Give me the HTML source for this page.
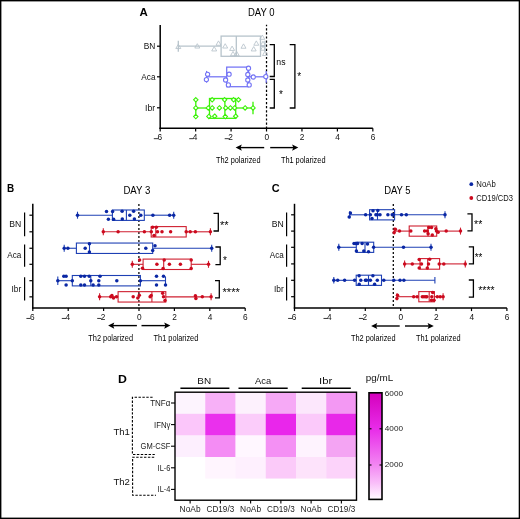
<!DOCTYPE html>
<html><head><meta charset="utf-8"><style>
html,body{margin:0;padding:0;background:#fff;}
body{width:520px;height:519px;overflow:hidden;position:relative;}
svg{position:absolute;left:0;top:0;will-change:transform;}
text{font-family:"Liberation Sans", sans-serif;}
</style></head><body>
<svg width="520" height="519" viewBox="0 0 520 519" font-family="'Liberation Sans', sans-serif">
<rect x="0" y="0" width="520" height="519" fill="#fff"/>
<line x1="266.52" y1="24.8" x2="266.52" y2="128.2" stroke="#000" stroke-width="1.25" stroke-dasharray="2.2 1.9" stroke-dashoffset="0.7"/>
<line x1="178.3" y1="46.2" x2="221.1" y2="46.2" stroke="#b7c3cb" stroke-width="1.3"/>
<line x1="260.5" y1="46.2" x2="265" y2="46.2" stroke="#b7c3cb" stroke-width="1.3"/>
<line x1="178.3" y1="40.7" x2="178.3" y2="51.7" stroke="#b7c3cb" stroke-width="1.3"/>
<line x1="265" y1="40.7" x2="265" y2="51.7" stroke="#b7c3cb" stroke-width="1.3"/>
<rect x="221.1" y="36.1" width="39.4" height="20.2" fill="none" stroke="#b7c3cb" stroke-width="1.3"/>
<line x1="236.3" y1="36.1" x2="236.3" y2="56.3" stroke="#b7c3cb" stroke-width="1.3"/>
<path d="M178.3 44.19 L175.8 48.54 L180.8 48.54 Z" fill="none" stroke="#b7c3cb" stroke-width="0.85"/>
<path d="M197.3 43.69 L194.8 48.04 L199.8 48.04 Z" fill="none" stroke="#b7c3cb" stroke-width="0.85"/>
<path d="M214.2 46.59 L211.7 50.94 L216.7 50.94 Z" fill="none" stroke="#b7c3cb" stroke-width="0.85"/>
<path d="M218.5 40.89 L216 45.24 L221 45.24 Z" fill="none" stroke="#b7c3cb" stroke-width="0.85"/>
<path d="M225.2 43.69 L222.7 48.04 L227.7 48.04 Z" fill="none" stroke="#b7c3cb" stroke-width="0.85"/>
<path d="M232.1 46.09 L229.6 50.44 L234.6 50.44 Z" fill="none" stroke="#b7c3cb" stroke-width="0.85"/>
<path d="M233 51.39 L230.5 55.74 L235.5 55.74 Z" fill="none" stroke="#b7c3cb" stroke-width="0.85"/>
<path d="M236.7 51.39 L234.2 55.74 L239.2 55.74 Z" fill="none" stroke="#b7c3cb" stroke-width="0.85"/>
<path d="M243.5 43.89 L241 48.24 L246 48.24 Z" fill="none" stroke="#b7c3cb" stroke-width="0.85"/>
<path d="M253.7 46.59 L251.2 50.94 L256.2 50.94 Z" fill="none" stroke="#b7c3cb" stroke-width="0.85"/>
<path d="M256.3 40.89 L253.8 45.24 L258.8 45.24 Z" fill="none" stroke="#b7c3cb" stroke-width="0.85"/>
<path d="M262.3 34.99 L259.8 39.34 L264.8 39.34 Z" fill="none" stroke="#b7c3cb" stroke-width="0.85"/>
<path d="M263 41.19 L260.5 45.54 L265.5 45.54 Z" fill="none" stroke="#b7c3cb" stroke-width="0.85"/>
<path d="M263 45.89 L260.5 50.24 L265.5 50.24 Z" fill="none" stroke="#b7c3cb" stroke-width="0.85"/>
<path d="M265 51.19 L262.5 55.54 L267.5 55.54 Z" fill="none" stroke="#b7c3cb" stroke-width="0.85"/>
<line x1="206.6" y1="76.8" x2="226.7" y2="76.8" stroke="#7373f5" stroke-width="1.25"/>
<line x1="248.6" y1="76.8" x2="266.2" y2="76.8" stroke="#7373f5" stroke-width="1.25"/>
<line x1="206.6" y1="70.9" x2="206.6" y2="82.7" stroke="#7373f5" stroke-width="1.25"/>
<line x1="266.2" y1="70.9" x2="266.2" y2="82.7" stroke="#7373f5" stroke-width="1.25"/>
<rect x="226.7" y="67.1" width="21.9" height="19.6" fill="none" stroke="#7373f5" stroke-width="1.25"/>
<line x1="248" y1="67.1" x2="248" y2="86.7" stroke="#7373f5" stroke-width="1.25"/>
<circle cx="207.6" cy="74.3" r="2.1" fill="#fff" stroke="#7373f5" stroke-width="1.1"/>
<circle cx="206.4" cy="79.6" r="2.1" fill="#fff" stroke="#7373f5" stroke-width="1.1"/>
<circle cx="229.1" cy="74.2" r="2.1" fill="#fff" stroke="#7373f5" stroke-width="1.1"/>
<circle cx="225.6" cy="80" r="2.1" fill="#fff" stroke="#7373f5" stroke-width="1.1"/>
<circle cx="228.4" cy="84.9" r="2.1" fill="#fff" stroke="#7373f5" stroke-width="1.1"/>
<circle cx="248.5" cy="68.2" r="2.1" fill="#fff" stroke="#7373f5" stroke-width="1.1"/>
<circle cx="247.8" cy="74.5" r="2.1" fill="#fff" stroke="#7373f5" stroke-width="1.1"/>
<circle cx="247.8" cy="80" r="2.1" fill="#fff" stroke="#7373f5" stroke-width="1.1"/>
<circle cx="249.2" cy="84.9" r="2.1" fill="#fff" stroke="#7373f5" stroke-width="1.1"/>
<circle cx="253.3" cy="77" r="2.1" fill="#fff" stroke="#7373f5" stroke-width="1.1"/>
<circle cx="265.8" cy="76.6" r="2.1" fill="#fff" stroke="#7373f5" stroke-width="1.1"/>
<line x1="195.8" y1="108" x2="209.5" y2="108" stroke="#3af206" stroke-width="1.3"/>
<line x1="235.7" y1="108" x2="253" y2="108" stroke="#3af206" stroke-width="1.3"/>
<line x1="195.8" y1="101.7" x2="195.8" y2="114.3" stroke="#3af206" stroke-width="1.3"/>
<line x1="253" y1="101.7" x2="253" y2="114.3" stroke="#3af206" stroke-width="1.3"/>
<rect x="209.5" y="98.5" width="26.2" height="19.8" fill="none" stroke="#3af206" stroke-width="1.3"/>
<line x1="224.9" y1="98.5" x2="224.9" y2="118.3" stroke="#3af206" stroke-width="1.3"/>
<path d="M195.8 97.6 L198 99.8 L195.8 102 L193.6 99.8 Z" fill="#fff" stroke="#3af206" stroke-width="1.1"/>
<path d="M195.8 105.7 L198 107.9 L195.8 110.1 L193.6 107.9 Z" fill="#fff" stroke="#3af206" stroke-width="1.1"/>
<path d="M195.8 114.4 L198 116.6 L195.8 118.8 L193.6 116.6 Z" fill="#fff" stroke="#3af206" stroke-width="1.1"/>
<path d="M208.3 105.7 L210.5 107.9 L208.3 110.1 L206.1 107.9 Z" fill="#fff" stroke="#3af206" stroke-width="1.1"/>
<path d="M212.2 97.6 L214.4 99.8 L212.2 102 L210 99.8 Z" fill="#fff" stroke="#3af206" stroke-width="1.1"/>
<path d="M212.2 105.7 L214.4 107.9 L212.2 110.1 L210 107.9 Z" fill="#fff" stroke="#3af206" stroke-width="1.1"/>
<path d="M208.9 114.2 L211.1 116.4 L208.9 118.6 L206.7 116.4 Z" fill="#fff" stroke="#3af206" stroke-width="1.1"/>
<path d="M214.7 114 L216.9 116.2 L214.7 118.4 L212.5 116.2 Z" fill="#fff" stroke="#3af206" stroke-width="1.1"/>
<path d="M219.4 105.7 L221.6 107.9 L219.4 110.1 L217.2 107.9 Z" fill="#fff" stroke="#3af206" stroke-width="1.1"/>
<path d="M224.6 97.6 L226.8 99.8 L224.6 102 L222.4 99.8 Z" fill="#fff" stroke="#3af206" stroke-width="1.1"/>
<path d="M225.7 105.7 L227.9 107.9 L225.7 110.1 L223.5 107.9 Z" fill="#fff" stroke="#3af206" stroke-width="1.1"/>
<path d="M225.3 114.4 L227.5 116.6 L225.3 118.8 L223.1 116.6 Z" fill="#fff" stroke="#3af206" stroke-width="1.1"/>
<path d="M230.4 105.7 L232.6 107.9 L230.4 110.1 L228.2 107.9 Z" fill="#fff" stroke="#3af206" stroke-width="1.1"/>
<path d="M233.6 97.6 L235.8 99.8 L233.6 102 L231.4 99.8 Z" fill="#fff" stroke="#3af206" stroke-width="1.1"/>
<path d="M234.6 105.7 L236.8 107.9 L234.6 110.1 L232.4 107.9 Z" fill="#fff" stroke="#3af206" stroke-width="1.1"/>
<path d="M235.7 114 L237.9 116.2 L235.7 118.4 L233.5 116.2 Z" fill="#fff" stroke="#3af206" stroke-width="1.1"/>
<path d="M238.5 97.6 L240.7 99.8 L238.5 102 L236.3 99.8 Z" fill="#fff" stroke="#3af206" stroke-width="1.1"/>
<path d="M245.1 105.7 L247.3 107.9 L245.1 110.1 L242.9 107.9 Z" fill="#fff" stroke="#3af206" stroke-width="1.1"/>
<path d="M253 105.7 L255.2 107.9 L253 110.1 L250.8 107.9 Z" fill="#fff" stroke="#3af206" stroke-width="1.1"/>
<line x1="160.2" y1="25" x2="160.2" y2="128.9" stroke="#000" stroke-width="1.5"/>
<line x1="159.5" y1="128.2" x2="372.84" y2="128.2" stroke="#000" stroke-width="1.5"/>
<line x1="160.2" y1="128.2" x2="160.2" y2="131.5" stroke="#000" stroke-width="1.2"/>
<rect x="153.8" y="138.25" width="4.2" height="0.9" fill="#222" stroke="none" stroke-width="1"/>
<text x="159.7" y="140.2" font-size="8.3" text-anchor="middle" font-weight="normal" fill="#111">6</text>
<line x1="195.64" y1="128.2" x2="195.64" y2="131.5" stroke="#000" stroke-width="1.2"/>
<rect x="189.24" y="138.25" width="4.2" height="0.9" fill="#222" stroke="none" stroke-width="1"/>
<text x="195.14" y="140.2" font-size="8.3" text-anchor="middle" font-weight="normal" fill="#111">4</text>
<line x1="231.08" y1="128.2" x2="231.08" y2="131.5" stroke="#000" stroke-width="1.2"/>
<rect x="224.68" y="138.25" width="4.2" height="0.9" fill="#222" stroke="none" stroke-width="1"/>
<text x="230.58" y="140.2" font-size="8.3" text-anchor="middle" font-weight="normal" fill="#111">2</text>
<line x1="266.52" y1="128.2" x2="266.52" y2="131.5" stroke="#000" stroke-width="1.2"/>
<text x="266.72" y="140.2" font-size="8.3" text-anchor="middle" font-weight="normal" fill="#111">0</text>
<line x1="301.96" y1="128.2" x2="301.96" y2="131.5" stroke="#000" stroke-width="1.2"/>
<text x="302.16" y="140.2" font-size="8.3" text-anchor="middle" font-weight="normal" fill="#111">2</text>
<line x1="337.4" y1="128.2" x2="337.4" y2="131.5" stroke="#000" stroke-width="1.2"/>
<text x="337.6" y="140.2" font-size="8.3" text-anchor="middle" font-weight="normal" fill="#111">4</text>
<line x1="372.84" y1="128.2" x2="372.84" y2="131.5" stroke="#000" stroke-width="1.2"/>
<text x="373.04" y="140.2" font-size="8.3" text-anchor="middle" font-weight="normal" fill="#111">6</text>
<line x1="157" y1="46.2" x2="160.2" y2="46.2" stroke="#000" stroke-width="1.2"/>
<text x="155.3" y="49" font-size="8.8" text-anchor="end" font-weight="normal" fill="#111" textLength="11.6" lengthAdjust="spacingAndGlyphs">BN</text>
<line x1="157" y1="76.8" x2="160.2" y2="76.8" stroke="#000" stroke-width="1.2"/>
<text x="155.5" y="79.6" font-size="8.8" text-anchor="end" font-weight="normal" fill="#111" textLength="14.2" lengthAdjust="spacingAndGlyphs">Aca</text>
<line x1="157" y1="107.8" x2="160.2" y2="107.8" stroke="#000" stroke-width="1.2"/>
<text x="155.3" y="110.6" font-size="8.8" text-anchor="end" font-weight="normal" fill="#111" textLength="10.2" lengthAdjust="spacingAndGlyphs">Ibr</text>
<text x="248" y="16" font-size="10" text-anchor="start" font-weight="normal" fill="#000" textLength="26.6" lengthAdjust="spacingAndGlyphs">DAY 0</text>
<text x="139.5" y="16.4" font-size="10.8" text-anchor="start" font-weight="bold" fill="#000" textLength="8.3" lengthAdjust="spacingAndGlyphs">A</text>
<path d="M269.7 44.7 H274.3 V76.5 H269.7" fill="none" stroke="#000" stroke-width="1.3"/>
<text x="276.3" y="64.5" font-size="8.6" text-anchor="start" font-weight="normal" fill="#000" textLength="9.2" lengthAdjust="spacingAndGlyphs">ns</text>
<path d="M269.7 79.4 H274.3 V108 H269.7" fill="none" stroke="#000" stroke-width="1.3"/>
<text x="279" y="97.6" font-size="10" text-anchor="start" font-weight="normal" fill="#000">*</text>
<path d="M289.7 44.7 H294.9 V108 H289.7" fill="none" stroke="#000" stroke-width="1.3"/>
<text x="297.2" y="79.5" font-size="10" text-anchor="start" font-weight="normal" fill="#000">*</text>
<line x1="239.6" y1="147.6" x2="264.2" y2="147.6" stroke="#000" stroke-width="1.4"/>
<path d="M235.6 147.6 L241.8 144.5 L240.6 147.6 L241.8 150.7 Z" fill="#000" stroke="none" stroke-width="1"/>
<line x1="270.2" y1="147.6" x2="294.3" y2="147.6" stroke="#000" stroke-width="1.4"/>
<path d="M298.3 147.6 L292.1 144.5 L293.3 147.6 L292.1 150.7 Z" fill="#000" stroke="none" stroke-width="1"/>
<text x="216" y="163.1" font-size="9.5" text-anchor="start" font-weight="normal" fill="#000" textLength="44.5" lengthAdjust="spacingAndGlyphs">Th2 polarized</text>
<text x="280.9" y="163.1" font-size="9.5" text-anchor="start" font-weight="normal" fill="#000" textLength="44.6" lengthAdjust="spacingAndGlyphs">Th1 polarized</text>
<line x1="138.9" y1="203.9" x2="138.9" y2="307.9" stroke="#000" stroke-width="1.25" stroke-dasharray="2.0 2.0"/>
<line x1="77.5" y1="215.2" x2="112.4" y2="215.2" stroke="#1e40b4" stroke-width="1.1"/>
<line x1="144.3" y1="215.2" x2="173.7" y2="215.2" stroke="#1e40b4" stroke-width="1.1"/>
<line x1="77.5" y1="211.7" x2="77.5" y2="218.7" stroke="#1e40b4" stroke-width="1.1"/>
<line x1="173.7" y1="211.7" x2="173.7" y2="218.7" stroke="#1e40b4" stroke-width="1.1"/>
<rect x="112.4" y="210" width="31.9" height="10.4" fill="none" stroke="#1e40b4" stroke-width="1.1"/>
<line x1="126.4" y1="210" x2="126.4" y2="220.4" stroke="#1e40b4" stroke-width="1.1"/>
<circle cx="77.5" cy="215.2" r="1.75" fill="#0a27a4" stroke="none" stroke-width="1"/>
<circle cx="106.5" cy="211.5" r="1.75" fill="#0a27a4" stroke="none" stroke-width="1"/>
<circle cx="108.4" cy="219.2" r="1.75" fill="#0a27a4" stroke="none" stroke-width="1"/>
<circle cx="112.6" cy="211.5" r="1.75" fill="#0a27a4" stroke="none" stroke-width="1"/>
<circle cx="113.6" cy="219.2" r="1.75" fill="#0a27a4" stroke="none" stroke-width="1"/>
<circle cx="122.1" cy="211.3" r="1.75" fill="#0a27a4" stroke="none" stroke-width="1"/>
<circle cx="122.3" cy="219.1" r="1.75" fill="#0a27a4" stroke="none" stroke-width="1"/>
<circle cx="129.8" cy="215.2" r="1.75" fill="#0a27a4" stroke="none" stroke-width="1"/>
<circle cx="133.6" cy="211.3" r="1.75" fill="#0a27a4" stroke="none" stroke-width="1"/>
<circle cx="134.4" cy="219.1" r="1.75" fill="#0a27a4" stroke="none" stroke-width="1"/>
<circle cx="140.8" cy="215.2" r="1.75" fill="#0a27a4" stroke="none" stroke-width="1"/>
<circle cx="152.9" cy="215.2" r="1.75" fill="#0a27a4" stroke="none" stroke-width="1"/>
<circle cx="169.6" cy="215.2" r="1.75" fill="#0a27a4" stroke="none" stroke-width="1"/>
<circle cx="173.7" cy="215.2" r="1.75" fill="#0a27a4" stroke="none" stroke-width="1"/>
<line x1="103.3" y1="231.8" x2="151.2" y2="231.8" stroke="#cf1f30" stroke-width="1.1"/>
<line x1="186.2" y1="231.8" x2="210.4" y2="231.8" stroke="#cf1f30" stroke-width="1.1"/>
<line x1="103.3" y1="228.3" x2="103.3" y2="235.3" stroke="#cf1f30" stroke-width="1.1"/>
<line x1="210.4" y1="228.3" x2="210.4" y2="235.3" stroke="#cf1f30" stroke-width="1.1"/>
<rect x="151.2" y="226.6" width="35" height="10.4" fill="none" stroke="#cf1f30" stroke-width="1.1"/>
<line x1="155.8" y1="226.6" x2="155.8" y2="237" stroke="#cf1f30" stroke-width="1.1"/>
<circle cx="103.3" cy="231.8" r="1.75" fill="#cc0a1e" stroke="none" stroke-width="1"/>
<circle cx="118.1" cy="231.8" r="1.75" fill="#cc0a1e" stroke="none" stroke-width="1"/>
<circle cx="144.4" cy="231.8" r="1.75" fill="#cc0a1e" stroke="none" stroke-width="1"/>
<circle cx="151.3" cy="231.8" r="1.75" fill="#cc0a1e" stroke="none" stroke-width="1"/>
<circle cx="152.6" cy="227.2" r="1.75" fill="#cc0a1e" stroke="none" stroke-width="1"/>
<circle cx="156.3" cy="227.2" r="1.75" fill="#cc0a1e" stroke="none" stroke-width="1"/>
<circle cx="154" cy="235.6" r="1.75" fill="#cc0a1e" stroke="none" stroke-width="1"/>
<circle cx="157.5" cy="231.8" r="1.75" fill="#cc0a1e" stroke="none" stroke-width="1"/>
<circle cx="162" cy="231.8" r="1.75" fill="#cc0a1e" stroke="none" stroke-width="1"/>
<circle cx="170.6" cy="231.8" r="1.75" fill="#cc0a1e" stroke="none" stroke-width="1"/>
<circle cx="186.2" cy="231.8" r="1.75" fill="#cc0a1e" stroke="none" stroke-width="1"/>
<circle cx="190.2" cy="231.8" r="1.75" fill="#cc0a1e" stroke="none" stroke-width="1"/>
<circle cx="195.4" cy="231.8" r="1.75" fill="#cc0a1e" stroke="none" stroke-width="1"/>
<circle cx="210.4" cy="231.8" r="1.75" fill="#cc0a1e" stroke="none" stroke-width="1"/>
<line x1="64.2" y1="248.25" x2="76.4" y2="248.25" stroke="#1e40b4" stroke-width="1.1"/>
<line x1="152.7" y1="248.25" x2="211.7" y2="248.25" stroke="#1e40b4" stroke-width="1.1"/>
<line x1="64.2" y1="244.75" x2="64.2" y2="251.75" stroke="#1e40b4" stroke-width="1.1"/>
<line x1="211.7" y1="244.75" x2="211.7" y2="251.75" stroke="#1e40b4" stroke-width="1.1"/>
<rect x="76.4" y="243.05" width="76.3" height="10.4" fill="none" stroke="#1e40b4" stroke-width="1.1"/>
<line x1="89.5" y1="243.05" x2="89.5" y2="253.45" stroke="#1e40b4" stroke-width="1.1"/>
<circle cx="64.2" cy="248.25" r="1.75" fill="#0a27a4" stroke="none" stroke-width="1"/>
<circle cx="67.9" cy="248.25" r="1.75" fill="#0a27a4" stroke="none" stroke-width="1"/>
<circle cx="85.2" cy="248.25" r="1.75" fill="#0a27a4" stroke="none" stroke-width="1"/>
<circle cx="89.4" cy="243.8" r="1.75" fill="#0a27a4" stroke="none" stroke-width="1"/>
<circle cx="89.4" cy="252.1" r="1.75" fill="#0a27a4" stroke="none" stroke-width="1"/>
<circle cx="145.8" cy="248.25" r="1.75" fill="#0a27a4" stroke="none" stroke-width="1"/>
<circle cx="152.7" cy="250.4" r="1.75" fill="#0a27a4" stroke="none" stroke-width="1"/>
<circle cx="155" cy="245.8" r="1.75" fill="#0a27a4" stroke="none" stroke-width="1"/>
<circle cx="211.7" cy="248.25" r="1.75" fill="#0a27a4" stroke="none" stroke-width="1"/>
<line x1="132.3" y1="264.3" x2="143.1" y2="264.3" stroke="#cf1f30" stroke-width="1.1"/>
<line x1="191.2" y1="264.3" x2="208.5" y2="264.3" stroke="#cf1f30" stroke-width="1.1"/>
<line x1="132.3" y1="260.8" x2="132.3" y2="267.8" stroke="#cf1f30" stroke-width="1.1"/>
<line x1="208.5" y1="260.8" x2="208.5" y2="267.8" stroke="#cf1f30" stroke-width="1.1"/>
<rect x="143.1" y="259.1" width="48.1" height="10.4" fill="none" stroke="#cf1f30" stroke-width="1.1"/>
<line x1="163.7" y1="259.1" x2="163.7" y2="269.5" stroke="#cf1f30" stroke-width="1.1"/>
<circle cx="132.3" cy="264.3" r="1.75" fill="#cc0a1e" stroke="none" stroke-width="1"/>
<circle cx="139.6" cy="260.1" r="1.75" fill="#cc0a1e" stroke="none" stroke-width="1"/>
<circle cx="142.5" cy="268.2" r="1.75" fill="#cc0a1e" stroke="none" stroke-width="1"/>
<circle cx="156.9" cy="264.3" r="1.75" fill="#cc0a1e" stroke="none" stroke-width="1"/>
<circle cx="164.2" cy="260.1" r="1.75" fill="#cc0a1e" stroke="none" stroke-width="1"/>
<circle cx="163.1" cy="268.4" r="1.75" fill="#cc0a1e" stroke="none" stroke-width="1"/>
<circle cx="169.4" cy="264.3" r="1.75" fill="#cc0a1e" stroke="none" stroke-width="1"/>
<circle cx="180.4" cy="264.3" r="1.75" fill="#cc0a1e" stroke="none" stroke-width="1"/>
<circle cx="191.2" cy="260.1" r="1.75" fill="#cc0a1e" stroke="none" stroke-width="1"/>
<circle cx="191.2" cy="268.4" r="1.75" fill="#cc0a1e" stroke="none" stroke-width="1"/>
<circle cx="208.5" cy="264.3" r="1.75" fill="#cc0a1e" stroke="none" stroke-width="1"/>
<line x1="57.8" y1="280.7" x2="72.3" y2="280.7" stroke="#1e40b4" stroke-width="1.1"/>
<line x1="140.4" y1="280.7" x2="165.5" y2="280.7" stroke="#1e40b4" stroke-width="1.1"/>
<line x1="57.8" y1="276.5" x2="57.8" y2="284.9" stroke="#1e40b4" stroke-width="1.1"/>
<line x1="165.5" y1="276.5" x2="165.5" y2="284.9" stroke="#1e40b4" stroke-width="1.1"/>
<rect x="72.3" y="275.5" width="68.1" height="10.4" fill="none" stroke="#1e40b4" stroke-width="1.1"/>
<line x1="90.8" y1="275.5" x2="90.8" y2="285.9" stroke="#1e40b4" stroke-width="1.1"/>
<circle cx="57.8" cy="280.7" r="1.75" fill="#0a27a4" stroke="none" stroke-width="1"/>
<circle cx="63.8" cy="276.3" r="1.75" fill="#0a27a4" stroke="none" stroke-width="1"/>
<circle cx="66.1" cy="276.3" r="1.75" fill="#0a27a4" stroke="none" stroke-width="1"/>
<circle cx="66.1" cy="284.9" r="1.75" fill="#0a27a4" stroke="none" stroke-width="1"/>
<circle cx="72.3" cy="280.7" r="1.75" fill="#0a27a4" stroke="none" stroke-width="1"/>
<circle cx="80.8" cy="276.3" r="1.75" fill="#0a27a4" stroke="none" stroke-width="1"/>
<circle cx="84.5" cy="276.3" r="1.75" fill="#0a27a4" stroke="none" stroke-width="1"/>
<circle cx="89.2" cy="276.3" r="1.75" fill="#0a27a4" stroke="none" stroke-width="1"/>
<circle cx="80.8" cy="284.9" r="1.75" fill="#0a27a4" stroke="none" stroke-width="1"/>
<circle cx="84.5" cy="284.9" r="1.75" fill="#0a27a4" stroke="none" stroke-width="1"/>
<circle cx="90.8" cy="280.7" r="1.75" fill="#0a27a4" stroke="none" stroke-width="1"/>
<circle cx="93.1" cy="284.9" r="1.75" fill="#0a27a4" stroke="none" stroke-width="1"/>
<circle cx="98.8" cy="280.7" r="1.75" fill="#0a27a4" stroke="none" stroke-width="1"/>
<circle cx="100" cy="276.3" r="1.75" fill="#0a27a4" stroke="none" stroke-width="1"/>
<circle cx="98.8" cy="284.9" r="1.75" fill="#0a27a4" stroke="none" stroke-width="1"/>
<circle cx="116.8" cy="280.7" r="1.75" fill="#0a27a4" stroke="none" stroke-width="1"/>
<circle cx="140.4" cy="280.7" r="1.75" fill="#0a27a4" stroke="none" stroke-width="1"/>
<circle cx="156.5" cy="276.3" r="1.75" fill="#0a27a4" stroke="none" stroke-width="1"/>
<circle cx="163.5" cy="276.3" r="1.75" fill="#0a27a4" stroke="none" stroke-width="1"/>
<circle cx="156.5" cy="284.9" r="1.75" fill="#0a27a4" stroke="none" stroke-width="1"/>
<circle cx="165.5" cy="284.9" r="1.75" fill="#0a27a4" stroke="none" stroke-width="1"/>
<line x1="99.6" y1="296.85" x2="118.1" y2="296.85" stroke="#cf1f30" stroke-width="1.1"/>
<line x1="165.8" y1="296.85" x2="211.1" y2="296.85" stroke="#cf1f30" stroke-width="1.1"/>
<line x1="99.6" y1="293.35" x2="99.6" y2="300.35" stroke="#cf1f30" stroke-width="1.1"/>
<line x1="211.1" y1="293.35" x2="211.1" y2="300.35" stroke="#cf1f30" stroke-width="1.1"/>
<rect x="118.1" y="291.65" width="47.7" height="10.4" fill="none" stroke="#cf1f30" stroke-width="1.1"/>
<line x1="151.9" y1="291.65" x2="151.9" y2="302.05" stroke="#cf1f30" stroke-width="1.1"/>
<circle cx="99.6" cy="296.85" r="1.75" fill="#cc0a1e" stroke="none" stroke-width="1"/>
<circle cx="110.7" cy="296.85" r="1.75" fill="#cc0a1e" stroke="none" stroke-width="1"/>
<circle cx="111.9" cy="295.5" r="1.75" fill="#cc0a1e" stroke="none" stroke-width="1"/>
<circle cx="113.5" cy="298" r="1.75" fill="#cc0a1e" stroke="none" stroke-width="1"/>
<circle cx="116.5" cy="296.85" r="1.75" fill="#cc0a1e" stroke="none" stroke-width="1"/>
<circle cx="133.2" cy="296.85" r="1.75" fill="#cc0a1e" stroke="none" stroke-width="1"/>
<circle cx="137.8" cy="298" r="1.75" fill="#cc0a1e" stroke="none" stroke-width="1"/>
<circle cx="139.3" cy="295.2" r="1.75" fill="#cc0a1e" stroke="none" stroke-width="1"/>
<circle cx="150.1" cy="296.85" r="1.75" fill="#cc0a1e" stroke="none" stroke-width="1"/>
<circle cx="151.2" cy="295.5" r="1.75" fill="#cc0a1e" stroke="none" stroke-width="1"/>
<circle cx="162.7" cy="293.2" r="1.75" fill="#cc0a1e" stroke="none" stroke-width="1"/>
<circle cx="163.5" cy="296.85" r="1.75" fill="#cc0a1e" stroke="none" stroke-width="1"/>
<circle cx="165" cy="300.5" r="1.75" fill="#cc0a1e" stroke="none" stroke-width="1"/>
<circle cx="195.4" cy="295.8" r="1.75" fill="#cc0a1e" stroke="none" stroke-width="1"/>
<circle cx="195.9" cy="298.4" r="1.75" fill="#cc0a1e" stroke="none" stroke-width="1"/>
<circle cx="202.3" cy="296.85" r="1.75" fill="#cc0a1e" stroke="none" stroke-width="1"/>
<circle cx="211.1" cy="296.85" r="1.75" fill="#cc0a1e" stroke="none" stroke-width="1"/>
<line x1="32.8" y1="203.8" x2="32.8" y2="308.6" stroke="#000" stroke-width="1.5"/>
<line x1="32.1" y1="307.9" x2="245.2" y2="307.9" stroke="#000" stroke-width="1.5"/>
<line x1="32.8" y1="307.9" x2="32.8" y2="311.1" stroke="#000" stroke-width="1.2"/>
<rect x="26.4" y="317.95" width="4.2" height="0.9" fill="#222" stroke="none" stroke-width="1"/>
<text x="32.3" y="319.9" font-size="8.3" text-anchor="middle" font-weight="normal" fill="#111">6</text>
<line x1="68.2" y1="307.9" x2="68.2" y2="311.1" stroke="#000" stroke-width="1.2"/>
<rect x="61.8" y="317.95" width="4.2" height="0.9" fill="#222" stroke="none" stroke-width="1"/>
<text x="67.7" y="319.9" font-size="8.3" text-anchor="middle" font-weight="normal" fill="#111">4</text>
<line x1="103.6" y1="307.9" x2="103.6" y2="311.1" stroke="#000" stroke-width="1.2"/>
<rect x="97.2" y="317.95" width="4.2" height="0.9" fill="#222" stroke="none" stroke-width="1"/>
<text x="103.1" y="319.9" font-size="8.3" text-anchor="middle" font-weight="normal" fill="#111">2</text>
<line x1="139" y1="307.9" x2="139" y2="311.1" stroke="#000" stroke-width="1.2"/>
<text x="139.2" y="319.9" font-size="8.3" text-anchor="middle" font-weight="normal" fill="#111">0</text>
<line x1="174.4" y1="307.9" x2="174.4" y2="311.1" stroke="#000" stroke-width="1.2"/>
<text x="174.6" y="319.9" font-size="8.3" text-anchor="middle" font-weight="normal" fill="#111">2</text>
<line x1="209.8" y1="307.9" x2="209.8" y2="311.1" stroke="#000" stroke-width="1.2"/>
<text x="210" y="319.9" font-size="8.3" text-anchor="middle" font-weight="normal" fill="#111">4</text>
<line x1="245.2" y1="307.9" x2="245.2" y2="311.1" stroke="#000" stroke-width="1.2"/>
<text x="245.4" y="319.9" font-size="8.3" text-anchor="middle" font-weight="normal" fill="#111">6</text>
<line x1="29.4" y1="215.2" x2="32.8" y2="215.2" stroke="#000" stroke-width="1.2"/>
<line x1="29.4" y1="231.8" x2="32.8" y2="231.8" stroke="#000" stroke-width="1.2"/>
<line x1="29.4" y1="248.25" x2="32.8" y2="248.25" stroke="#000" stroke-width="1.2"/>
<line x1="29.4" y1="264.3" x2="32.8" y2="264.3" stroke="#000" stroke-width="1.2"/>
<line x1="29.4" y1="280.7" x2="32.8" y2="280.7" stroke="#000" stroke-width="1.2"/>
<line x1="29.4" y1="296.85" x2="32.8" y2="296.85" stroke="#000" stroke-width="1.2"/>
<line x1="24.6" y1="212.5" x2="24.6" y2="236.2" stroke="#000" stroke-width="1.2"/>
<text x="21.3" y="227.05" font-size="8.8" text-anchor="end" font-weight="normal" fill="#111" textLength="12" lengthAdjust="spacingAndGlyphs">BN</text>
<line x1="24.6" y1="244.6" x2="24.6" y2="266.8" stroke="#000" stroke-width="1.2"/>
<text x="21.3" y="258.4" font-size="8.8" text-anchor="end" font-weight="normal" fill="#111" textLength="14" lengthAdjust="spacingAndGlyphs">Aca</text>
<line x1="24.6" y1="277.2" x2="24.6" y2="300.4" stroke="#000" stroke-width="1.2"/>
<text x="21.3" y="291.5" font-size="8.8" text-anchor="end" font-weight="normal" fill="#111" textLength="9.8" lengthAdjust="spacingAndGlyphs">Ibr</text>
<text x="123.4" y="194.1" font-size="10" text-anchor="start" font-weight="normal" fill="#000" textLength="26.9" lengthAdjust="spacingAndGlyphs">DAY 3</text>
<text x="7" y="192" font-size="10.8" text-anchor="start" font-weight="bold" fill="#000" textLength="7.2" lengthAdjust="spacingAndGlyphs">B</text>
<path d="M213.5 213.3 H218.3 V231 H213.5" fill="none" stroke="#000" stroke-width="1.3"/>
<text x="220" y="229.4" font-size="10" text-anchor="start" font-weight="normal" fill="#000" textLength="8.6" lengthAdjust="spacingAndGlyphs">**</text>
<path d="M215.4 247 H220.2 V264.7 H215.4" fill="none" stroke="#000" stroke-width="1.3"/>
<text x="222.9" y="263.5" font-size="10" text-anchor="start" font-weight="normal" fill="#000">*</text>
<path d="M215 280.7 H219.3 V297.9 H215" fill="none" stroke="#000" stroke-width="1.3"/>
<text x="222.5" y="295.5" font-size="10" text-anchor="start" font-weight="normal" fill="#000" textLength="17.3" lengthAdjust="spacingAndGlyphs">****</text>
<line x1="112.1" y1="325.6" x2="136.9" y2="325.6" stroke="#000" stroke-width="1.4"/>
<path d="M108.1 325.6 L114.3 322.5 L113.1 325.6 L114.3 328.7 Z" fill="#000" stroke="none" stroke-width="1"/>
<line x1="141.5" y1="325.6" x2="166.4" y2="325.6" stroke="#000" stroke-width="1.4"/>
<path d="M170.4 325.6 L164.2 322.5 L165.4 325.6 L164.2 328.7 Z" fill="#000" stroke="none" stroke-width="1"/>
<text x="88.3" y="340.9" font-size="9.5" text-anchor="start" font-weight="normal" fill="#000" textLength="44.7" lengthAdjust="spacingAndGlyphs">Th2 polarized</text>
<text x="153.6" y="340.9" font-size="9.5" text-anchor="start" font-weight="normal" fill="#000" textLength="44.7" lengthAdjust="spacingAndGlyphs">Th1 polarized</text>
<line x1="393.3" y1="203.9" x2="393.3" y2="307.9" stroke="#000" stroke-width="1.25" stroke-dasharray="2.0 2.0"/>
<line x1="349.7" y1="214.8" x2="369.6" y2="214.8" stroke="#1e40b4" stroke-width="1.1"/>
<line x1="394.6" y1="214.8" x2="445" y2="214.8" stroke="#1e40b4" stroke-width="1.1"/>
<line x1="349.7" y1="211.3" x2="349.7" y2="218.3" stroke="#1e40b4" stroke-width="1.1"/>
<line x1="445" y1="211.3" x2="445" y2="218.3" stroke="#1e40b4" stroke-width="1.1"/>
<rect x="369.6" y="209.7" width="25" height="10.2" fill="none" stroke="#1e40b4" stroke-width="1.1"/>
<line x1="377.5" y1="209.7" x2="377.5" y2="219.9" stroke="#1e40b4" stroke-width="1.1"/>
<circle cx="350.4" cy="213.1" r="1.75" fill="#0a27a4" stroke="none" stroke-width="1"/>
<circle cx="349.2" cy="217" r="1.75" fill="#0a27a4" stroke="none" stroke-width="1"/>
<circle cx="365.6" cy="214.8" r="1.75" fill="#0a27a4" stroke="none" stroke-width="1"/>
<circle cx="370.4" cy="214.8" r="1.75" fill="#0a27a4" stroke="none" stroke-width="1"/>
<circle cx="373" cy="210.8" r="1.75" fill="#0a27a4" stroke="none" stroke-width="1"/>
<circle cx="377.8" cy="210.5" r="1.75" fill="#0a27a4" stroke="none" stroke-width="1"/>
<circle cx="372" cy="218.5" r="1.75" fill="#0a27a4" stroke="none" stroke-width="1"/>
<circle cx="375.9" cy="214.8" r="1.75" fill="#0a27a4" stroke="none" stroke-width="1"/>
<circle cx="377.3" cy="214.8" r="1.75" fill="#0a27a4" stroke="none" stroke-width="1"/>
<circle cx="380" cy="214.8" r="1.75" fill="#0a27a4" stroke="none" stroke-width="1"/>
<circle cx="387.9" cy="214.8" r="1.75" fill="#0a27a4" stroke="none" stroke-width="1"/>
<circle cx="392.2" cy="214.8" r="1.75" fill="#0a27a4" stroke="none" stroke-width="1"/>
<circle cx="393.2" cy="214.8" r="1.75" fill="#0a27a4" stroke="none" stroke-width="1"/>
<circle cx="401.5" cy="214.8" r="1.75" fill="#0a27a4" stroke="none" stroke-width="1"/>
<circle cx="406.3" cy="214.8" r="1.75" fill="#0a27a4" stroke="none" stroke-width="1"/>
<circle cx="445" cy="214.8" r="1.75" fill="#0a27a4" stroke="none" stroke-width="1"/>
<line x1="394.2" y1="231.1" x2="409.2" y2="231.1" stroke="#cf1f30" stroke-width="1.1"/>
<line x1="436.7" y1="231.1" x2="460.5" y2="231.1" stroke="#cf1f30" stroke-width="1.1"/>
<line x1="394.2" y1="227.6" x2="394.2" y2="234.6" stroke="#cf1f30" stroke-width="1.1"/>
<line x1="460.5" y1="227.6" x2="460.5" y2="234.6" stroke="#cf1f30" stroke-width="1.1"/>
<rect x="409.2" y="226" width="27.5" height="10.2" fill="none" stroke="#cf1f30" stroke-width="1.1"/>
<line x1="428" y1="226" x2="428" y2="236.2" stroke="#cf1f30" stroke-width="1.1"/>
<circle cx="395.4" cy="229.2" r="1.75" fill="#cc0a1e" stroke="none" stroke-width="1"/>
<circle cx="394.2" cy="232.6" r="1.75" fill="#cc0a1e" stroke="none" stroke-width="1"/>
<circle cx="399.5" cy="231.1" r="1.75" fill="#cc0a1e" stroke="none" stroke-width="1"/>
<circle cx="410.8" cy="231.1" r="1.75" fill="#cc0a1e" stroke="none" stroke-width="1"/>
<circle cx="424.6" cy="231.1" r="1.75" fill="#cc0a1e" stroke="none" stroke-width="1"/>
<circle cx="427.3" cy="231.1" r="1.75" fill="#cc0a1e" stroke="none" stroke-width="1"/>
<circle cx="428.1" cy="233.8" r="1.75" fill="#cc0a1e" stroke="none" stroke-width="1"/>
<circle cx="428.8" cy="227.6" r="1.75" fill="#cc0a1e" stroke="none" stroke-width="1"/>
<circle cx="431.5" cy="227.4" r="1.75" fill="#cc0a1e" stroke="none" stroke-width="1"/>
<circle cx="432.3" cy="235" r="1.75" fill="#cc0a1e" stroke="none" stroke-width="1"/>
<circle cx="435.8" cy="228.8" r="1.75" fill="#cc0a1e" stroke="none" stroke-width="1"/>
<circle cx="436.5" cy="231.1" r="1.75" fill="#cc0a1e" stroke="none" stroke-width="1"/>
<circle cx="438.1" cy="232.2" r="1.75" fill="#cc0a1e" stroke="none" stroke-width="1"/>
<circle cx="446.2" cy="231.1" r="1.75" fill="#cc0a1e" stroke="none" stroke-width="1"/>
<circle cx="460.5" cy="231.1" r="1.75" fill="#cc0a1e" stroke="none" stroke-width="1"/>
<line x1="338.8" y1="247.3" x2="356.3" y2="247.3" stroke="#1e40b4" stroke-width="1.1"/>
<line x1="373.7" y1="247.3" x2="431" y2="247.3" stroke="#1e40b4" stroke-width="1.1"/>
<line x1="338.8" y1="243.8" x2="338.8" y2="250.8" stroke="#1e40b4" stroke-width="1.1"/>
<line x1="431" y1="243.8" x2="431" y2="250.8" stroke="#1e40b4" stroke-width="1.1"/>
<rect x="356.3" y="242.2" width="17.4" height="10.2" fill="none" stroke="#1e40b4" stroke-width="1.1"/>
<line x1="365" y1="242.2" x2="365" y2="252.4" stroke="#1e40b4" stroke-width="1.1"/>
<circle cx="338.8" cy="247.3" r="1.75" fill="#0a27a4" stroke="none" stroke-width="1"/>
<circle cx="354" cy="243.6" r="1.75" fill="#0a27a4" stroke="none" stroke-width="1"/>
<circle cx="355.7" cy="243.6" r="1.75" fill="#0a27a4" stroke="none" stroke-width="1"/>
<circle cx="357.6" cy="243.6" r="1.75" fill="#0a27a4" stroke="none" stroke-width="1"/>
<circle cx="362.1" cy="243.6" r="1.75" fill="#0a27a4" stroke="none" stroke-width="1"/>
<circle cx="367.5" cy="243.9" r="1.75" fill="#0a27a4" stroke="none" stroke-width="1"/>
<circle cx="356.4" cy="251.1" r="1.75" fill="#0a27a4" stroke="none" stroke-width="1"/>
<circle cx="363.8" cy="251.1" r="1.75" fill="#0a27a4" stroke="none" stroke-width="1"/>
<circle cx="368.5" cy="251.8" r="1.75" fill="#0a27a4" stroke="none" stroke-width="1"/>
<circle cx="373.6" cy="247.3" r="1.75" fill="#0a27a4" stroke="none" stroke-width="1"/>
<circle cx="403.5" cy="247.3" r="1.75" fill="#0a27a4" stroke="none" stroke-width="1"/>
<circle cx="431" cy="247.3" r="1.75" fill="#0a27a4" stroke="none" stroke-width="1"/>
<line x1="404.6" y1="263.9" x2="420" y2="263.9" stroke="#cf1f30" stroke-width="1.1"/>
<line x1="439.6" y1="263.9" x2="465.3" y2="263.9" stroke="#cf1f30" stroke-width="1.1"/>
<line x1="404.6" y1="260.4" x2="404.6" y2="267.4" stroke="#cf1f30" stroke-width="1.1"/>
<line x1="465.3" y1="260.4" x2="465.3" y2="267.4" stroke="#cf1f30" stroke-width="1.1"/>
<rect x="420" y="258.6" width="19.6" height="10.6" fill="none" stroke="#cf1f30" stroke-width="1.1"/>
<line x1="427.7" y1="258.6" x2="427.7" y2="269.2" stroke="#cf1f30" stroke-width="1.1"/>
<circle cx="404.6" cy="263.9" r="1.75" fill="#cc0a1e" stroke="none" stroke-width="1"/>
<circle cx="412.3" cy="263.9" r="1.75" fill="#cc0a1e" stroke="none" stroke-width="1"/>
<circle cx="419.2" cy="259.6" r="1.75" fill="#cc0a1e" stroke="none" stroke-width="1"/>
<circle cx="421.5" cy="263.9" r="1.75" fill="#cc0a1e" stroke="none" stroke-width="1"/>
<circle cx="419.2" cy="267.9" r="1.75" fill="#cc0a1e" stroke="none" stroke-width="1"/>
<circle cx="429.6" cy="259.3" r="1.75" fill="#cc0a1e" stroke="none" stroke-width="1"/>
<circle cx="428.5" cy="263.9" r="1.75" fill="#cc0a1e" stroke="none" stroke-width="1"/>
<circle cx="427.3" cy="267.9" r="1.75" fill="#cc0a1e" stroke="none" stroke-width="1"/>
<circle cx="439.2" cy="263.9" r="1.75" fill="#cc0a1e" stroke="none" stroke-width="1"/>
<circle cx="443.8" cy="263.9" r="1.75" fill="#cc0a1e" stroke="none" stroke-width="1"/>
<circle cx="465.3" cy="263.9" r="1.75" fill="#cc0a1e" stroke="none" stroke-width="1"/>
<line x1="333.8" y1="280.3" x2="356.2" y2="280.3" stroke="#1e40b4" stroke-width="1.1"/>
<line x1="381.5" y1="280.3" x2="434.9" y2="280.3" stroke="#1e40b4" stroke-width="1.1"/>
<line x1="333.8" y1="277" x2="333.8" y2="283.6" stroke="#1e40b4" stroke-width="1.1"/>
<line x1="434.9" y1="277" x2="434.9" y2="283.6" stroke="#1e40b4" stroke-width="1.1"/>
<rect x="356.2" y="275.2" width="25.3" height="10.2" fill="none" stroke="#1e40b4" stroke-width="1.1"/>
<line x1="368.5" y1="275.2" x2="368.5" y2="285.4" stroke="#1e40b4" stroke-width="1.1"/>
<circle cx="333.8" cy="280.3" r="1.75" fill="#0a27a4" stroke="none" stroke-width="1"/>
<circle cx="337.7" cy="280.3" r="1.75" fill="#0a27a4" stroke="none" stroke-width="1"/>
<circle cx="344.6" cy="280.3" r="1.75" fill="#0a27a4" stroke="none" stroke-width="1"/>
<circle cx="354.6" cy="280.3" r="1.75" fill="#0a27a4" stroke="none" stroke-width="1"/>
<circle cx="359.1" cy="275.7" r="1.75" fill="#0a27a4" stroke="none" stroke-width="1"/>
<circle cx="360.8" cy="280.3" r="1.75" fill="#0a27a4" stroke="none" stroke-width="1"/>
<circle cx="359.2" cy="284.2" r="1.75" fill="#0a27a4" stroke="none" stroke-width="1"/>
<circle cx="365.4" cy="280.3" r="1.75" fill="#0a27a4" stroke="none" stroke-width="1"/>
<circle cx="366.5" cy="280.3" r="1.75" fill="#0a27a4" stroke="none" stroke-width="1"/>
<circle cx="370.4" cy="280.3" r="1.75" fill="#0a27a4" stroke="none" stroke-width="1"/>
<circle cx="372.9" cy="275.7" r="1.75" fill="#0a27a4" stroke="none" stroke-width="1"/>
<circle cx="374.6" cy="284.2" r="1.75" fill="#0a27a4" stroke="none" stroke-width="1"/>
<circle cx="377.3" cy="280.3" r="1.75" fill="#0a27a4" stroke="none" stroke-width="1"/>
<circle cx="383.8" cy="280.3" r="1.75" fill="#0a27a4" stroke="none" stroke-width="1"/>
<circle cx="393.8" cy="280.3" r="1.75" fill="#0a27a4" stroke="none" stroke-width="1"/>
<circle cx="400" cy="280.3" r="1.75" fill="#0a27a4" stroke="none" stroke-width="1"/>
<circle cx="403.9" cy="280.3" r="1.75" fill="#0a27a4" stroke="none" stroke-width="1"/>
<line x1="397" y1="296.7" x2="418.8" y2="296.7" stroke="#cf1f30" stroke-width="1.1"/>
<line x1="434.4" y1="296.7" x2="443.1" y2="296.7" stroke="#cf1f30" stroke-width="1.1"/>
<line x1="397" y1="293.2" x2="397" y2="300.2" stroke="#cf1f30" stroke-width="1.1"/>
<line x1="443.1" y1="293.2" x2="443.1" y2="300.2" stroke="#cf1f30" stroke-width="1.1"/>
<rect x="418.8" y="291.6" width="15.6" height="10.2" fill="none" stroke="#cf1f30" stroke-width="1.1"/>
<line x1="429.2" y1="291.6" x2="429.2" y2="301.8" stroke="#cf1f30" stroke-width="1.1"/>
<circle cx="397.5" cy="295.2" r="1.75" fill="#cc0a1e" stroke="none" stroke-width="1"/>
<circle cx="396.9" cy="298.6" r="1.75" fill="#cc0a1e" stroke="none" stroke-width="1"/>
<circle cx="413.7" cy="296.7" r="1.75" fill="#cc0a1e" stroke="none" stroke-width="1"/>
<circle cx="417.1" cy="296.7" r="1.75" fill="#cc0a1e" stroke="none" stroke-width="1"/>
<circle cx="422.3" cy="296.7" r="1.75" fill="#cc0a1e" stroke="none" stroke-width="1"/>
<circle cx="424" cy="296.7" r="1.75" fill="#cc0a1e" stroke="none" stroke-width="1"/>
<circle cx="425.8" cy="296.7" r="1.75" fill="#cc0a1e" stroke="none" stroke-width="1"/>
<circle cx="426.9" cy="296.7" r="1.75" fill="#cc0a1e" stroke="none" stroke-width="1"/>
<circle cx="432.7" cy="292.6" r="1.75" fill="#cc0a1e" stroke="none" stroke-width="1"/>
<circle cx="431.8" cy="296.7" r="1.75" fill="#cc0a1e" stroke="none" stroke-width="1"/>
<circle cx="431.5" cy="300.2" r="1.75" fill="#cc0a1e" stroke="none" stroke-width="1"/>
<circle cx="434" cy="300.2" r="1.75" fill="#cc0a1e" stroke="none" stroke-width="1"/>
<circle cx="437.3" cy="296.7" r="1.75" fill="#cc0a1e" stroke="none" stroke-width="1"/>
<circle cx="440.2" cy="296.7" r="1.75" fill="#cc0a1e" stroke="none" stroke-width="1"/>
<circle cx="443.1" cy="296.7" r="1.75" fill="#cc0a1e" stroke="none" stroke-width="1"/>
<line x1="294.5" y1="203.8" x2="294.5" y2="308.6" stroke="#000" stroke-width="1.5"/>
<line x1="293.8" y1="307.9" x2="506.9" y2="307.9" stroke="#000" stroke-width="1.5"/>
<line x1="294.5" y1="307.9" x2="294.5" y2="311.1" stroke="#000" stroke-width="1.2"/>
<rect x="288.1" y="317.95" width="4.2" height="0.9" fill="#222" stroke="none" stroke-width="1"/>
<text x="294" y="319.9" font-size="8.3" text-anchor="middle" font-weight="normal" fill="#111">6</text>
<line x1="329.9" y1="307.9" x2="329.9" y2="311.1" stroke="#000" stroke-width="1.2"/>
<rect x="323.5" y="317.95" width="4.2" height="0.9" fill="#222" stroke="none" stroke-width="1"/>
<text x="329.4" y="319.9" font-size="8.3" text-anchor="middle" font-weight="normal" fill="#111">4</text>
<line x1="365.3" y1="307.9" x2="365.3" y2="311.1" stroke="#000" stroke-width="1.2"/>
<rect x="358.9" y="317.95" width="4.2" height="0.9" fill="#222" stroke="none" stroke-width="1"/>
<text x="364.8" y="319.9" font-size="8.3" text-anchor="middle" font-weight="normal" fill="#111">2</text>
<line x1="400.7" y1="307.9" x2="400.7" y2="311.1" stroke="#000" stroke-width="1.2"/>
<text x="400.9" y="319.9" font-size="8.3" text-anchor="middle" font-weight="normal" fill="#111">0</text>
<line x1="436.1" y1="307.9" x2="436.1" y2="311.1" stroke="#000" stroke-width="1.2"/>
<text x="436.3" y="319.9" font-size="8.3" text-anchor="middle" font-weight="normal" fill="#111">2</text>
<line x1="471.5" y1="307.9" x2="471.5" y2="311.1" stroke="#000" stroke-width="1.2"/>
<text x="471.7" y="319.9" font-size="8.3" text-anchor="middle" font-weight="normal" fill="#111">4</text>
<line x1="506.9" y1="307.9" x2="506.9" y2="311.1" stroke="#000" stroke-width="1.2"/>
<text x="507.1" y="319.9" font-size="8.3" text-anchor="middle" font-weight="normal" fill="#111">6</text>
<line x1="291.1" y1="214.8" x2="294.5" y2="214.8" stroke="#000" stroke-width="1.2"/>
<line x1="291.1" y1="231.1" x2="294.5" y2="231.1" stroke="#000" stroke-width="1.2"/>
<line x1="291.1" y1="247.3" x2="294.5" y2="247.3" stroke="#000" stroke-width="1.2"/>
<line x1="291.1" y1="263.9" x2="294.5" y2="263.9" stroke="#000" stroke-width="1.2"/>
<line x1="291.1" y1="280.3" x2="294.5" y2="280.3" stroke="#000" stroke-width="1.2"/>
<line x1="291.1" y1="296.7" x2="294.5" y2="296.7" stroke="#000" stroke-width="1.2"/>
<line x1="286.6" y1="212.5" x2="286.6" y2="236.2" stroke="#000" stroke-width="1.2"/>
<text x="283.8" y="227.05" font-size="8.8" text-anchor="end" font-weight="normal" fill="#111" textLength="12" lengthAdjust="spacingAndGlyphs">BN</text>
<line x1="286.6" y1="244.6" x2="286.6" y2="266.8" stroke="#000" stroke-width="1.2"/>
<text x="283.8" y="258.4" font-size="8.8" text-anchor="end" font-weight="normal" fill="#111" textLength="14" lengthAdjust="spacingAndGlyphs">Aca</text>
<line x1="286.6" y1="277.2" x2="286.6" y2="300.4" stroke="#000" stroke-width="1.2"/>
<text x="283.8" y="291.5" font-size="8.8" text-anchor="end" font-weight="normal" fill="#111" textLength="9.8" lengthAdjust="spacingAndGlyphs">Ibr</text>
<text x="384.2" y="194.1" font-size="10" text-anchor="start" font-weight="normal" fill="#000" textLength="26.4" lengthAdjust="spacingAndGlyphs">DAY 5</text>
<text x="271.8" y="192.4" font-size="10.8" text-anchor="start" font-weight="bold" fill="#000" textLength="7.9" lengthAdjust="spacingAndGlyphs">C</text>
<path d="M467.4 213.8 H472 V230.8 H467.4" fill="none" stroke="#000" stroke-width="1.3"/>
<text x="474.1" y="228" font-size="10" text-anchor="start" font-weight="normal" fill="#000" textLength="8.2" lengthAdjust="spacingAndGlyphs">**</text>
<path d="M468.8 246.8 H473.4 V263.8 H468.8" fill="none" stroke="#000" stroke-width="1.3"/>
<text x="474.8" y="261" font-size="10" text-anchor="start" font-weight="normal" fill="#000" textLength="7.6" lengthAdjust="spacingAndGlyphs">**</text>
<path d="M468.8 280 H473.4 V297.2 H468.8" fill="none" stroke="#000" stroke-width="1.3"/>
<text x="478.3" y="294" font-size="10" text-anchor="start" font-weight="normal" fill="#000" textLength="16.2" lengthAdjust="spacingAndGlyphs">****</text>
<line x1="375.1" y1="326" x2="399.7" y2="326" stroke="#000" stroke-width="1.4"/>
<path d="M371.1 326 L377.3 322.9 L376.1 326 L377.3 329.1 Z" fill="#000" stroke="none" stroke-width="1"/>
<line x1="405" y1="326" x2="429.8" y2="326" stroke="#000" stroke-width="1.4"/>
<path d="M433.8 326 L427.6 322.9 L428.8 326 L427.6 329.1 Z" fill="#000" stroke="none" stroke-width="1"/>
<text x="351" y="341.1" font-size="9.5" text-anchor="start" font-weight="normal" fill="#000" textLength="44.5" lengthAdjust="spacingAndGlyphs">Th2 polarized</text>
<text x="415.9" y="341.1" font-size="9.5" text-anchor="start" font-weight="normal" fill="#000" textLength="44.7" lengthAdjust="spacingAndGlyphs">Th1 polarized</text>
<circle cx="471.3" cy="184.2" r="1.9" fill="#0a27a4" stroke="none" stroke-width="1"/>
<circle cx="471.3" cy="198" r="1.9" fill="#cc0a1e" stroke="none" stroke-width="1"/>
<text x="476.3" y="186.6" font-size="8.2" text-anchor="start" font-weight="normal" fill="#111" textLength="19.4" lengthAdjust="spacingAndGlyphs">NoAb</text>
<text x="476.3" y="201.1" font-size="8.2" text-anchor="start" font-weight="normal" fill="#111" textLength="36.8" lengthAdjust="spacingAndGlyphs">CD19/CD3</text>
<rect x="175" y="392.2" width="30.55" height="21.9" fill="#fdf4fe" stroke="none" stroke-width="1"/>
<rect x="205.25" y="392.2" width="30.55" height="21.9" fill="#f7b0f7" stroke="none" stroke-width="1"/>
<rect x="235.5" y="392.2" width="30.55" height="21.9" fill="#fdf1fd" stroke="none" stroke-width="1"/>
<rect x="265.75" y="392.2" width="30.55" height="21.9" fill="#f6a9f6" stroke="none" stroke-width="1"/>
<rect x="296" y="392.2" width="30.55" height="21.9" fill="#fce7fc" stroke="none" stroke-width="1"/>
<rect x="326.25" y="392.2" width="30.55" height="21.9" fill="#f398f3" stroke="none" stroke-width="1"/>
<rect x="175" y="413.8" width="30.55" height="21.9" fill="#fbc6fa" stroke="none" stroke-width="1"/>
<rect x="205.25" y="413.8" width="30.55" height="21.9" fill="#ea30ed" stroke="none" stroke-width="1"/>
<rect x="235.5" y="413.8" width="30.55" height="21.9" fill="#fbccfa" stroke="none" stroke-width="1"/>
<rect x="265.75" y="413.8" width="30.55" height="21.9" fill="#e926eb" stroke="none" stroke-width="1"/>
<rect x="296" y="413.8" width="30.55" height="21.9" fill="#fbc9fa" stroke="none" stroke-width="1"/>
<rect x="326.25" y="413.8" width="30.55" height="21.9" fill="#e828e9" stroke="none" stroke-width="1"/>
<rect x="175" y="435.4" width="30.55" height="21.9" fill="#fdeffe" stroke="none" stroke-width="1"/>
<rect x="205.25" y="435.4" width="30.55" height="21.9" fill="#f48cf4" stroke="none" stroke-width="1"/>
<rect x="235.5" y="435.4" width="30.55" height="21.9" fill="#fff7ff" stroke="none" stroke-width="1"/>
<rect x="265.75" y="435.4" width="30.55" height="21.9" fill="#f490f4" stroke="none" stroke-width="1"/>
<rect x="296" y="435.4" width="30.55" height="21.9" fill="#fef3fe" stroke="none" stroke-width="1"/>
<rect x="326.25" y="435.4" width="30.55" height="21.9" fill="#f4a4f3" stroke="none" stroke-width="1"/>
<rect x="175" y="457" width="30.55" height="21.9" fill="#ffffff" stroke="none" stroke-width="1"/>
<rect x="205.25" y="457" width="30.55" height="21.9" fill="#fff5fe" stroke="none" stroke-width="1"/>
<rect x="235.5" y="457" width="30.55" height="21.9" fill="#fef0fe" stroke="none" stroke-width="1"/>
<rect x="265.75" y="457" width="30.55" height="21.9" fill="#fbcaf9" stroke="none" stroke-width="1"/>
<rect x="296" y="457" width="30.55" height="21.9" fill="#fde3fb" stroke="none" stroke-width="1"/>
<rect x="326.25" y="457" width="30.55" height="21.9" fill="#fcd3fa" stroke="none" stroke-width="1"/>
<rect x="175" y="478.6" width="30.55" height="21.9" fill="#ffffff" stroke="none" stroke-width="1"/>
<rect x="205.25" y="478.6" width="30.55" height="21.9" fill="#ffffff" stroke="none" stroke-width="1"/>
<rect x="235.5" y="478.6" width="30.55" height="21.9" fill="#ffffff" stroke="none" stroke-width="1"/>
<rect x="265.75" y="478.6" width="30.55" height="21.9" fill="#ffffff" stroke="none" stroke-width="1"/>
<rect x="296" y="478.6" width="30.55" height="21.9" fill="#ffffff" stroke="none" stroke-width="1"/>
<rect x="326.25" y="478.6" width="30.55" height="21.9" fill="#ffffff" stroke="none" stroke-width="1"/>
<rect x="175" y="392.2" width="181.5" height="108" fill="none" stroke="#000" stroke-width="1.4"/>
<line x1="171" y1="403" x2="175" y2="403" stroke="#000" stroke-width="1.1"/>
<text x="170.4" y="406" font-size="8.6" text-anchor="end" font-weight="normal" fill="#1a1a1a" textLength="20.2" lengthAdjust="spacingAndGlyphs">TNFα</text>
<line x1="171" y1="424.6" x2="175" y2="424.6" stroke="#000" stroke-width="1.1"/>
<text x="170.4" y="427.6" font-size="8.6" text-anchor="end" font-weight="normal" fill="#1a1a1a" textLength="16.4" lengthAdjust="spacingAndGlyphs">IFNγ</text>
<line x1="171" y1="446.2" x2="175" y2="446.2" stroke="#000" stroke-width="1.1"/>
<text x="170.4" y="449.2" font-size="8.6" text-anchor="end" font-weight="normal" fill="#1a1a1a" textLength="29.8" lengthAdjust="spacingAndGlyphs">GM-CSF</text>
<line x1="171" y1="467.8" x2="175" y2="467.8" stroke="#000" stroke-width="1.1"/>
<text x="170.4" y="470.8" font-size="8.6" text-anchor="end" font-weight="normal" fill="#1a1a1a" textLength="12.8" lengthAdjust="spacingAndGlyphs">IL-6</text>
<line x1="171" y1="489.4" x2="175" y2="489.4" stroke="#000" stroke-width="1.1"/>
<text x="170.4" y="492.4" font-size="8.6" text-anchor="end" font-weight="normal" fill="#1a1a1a" textLength="12.8" lengthAdjust="spacingAndGlyphs">IL-4</text>
<line x1="190.12" y1="500.2" x2="190.12" y2="503.5" stroke="#000" stroke-width="1.1"/>
<text x="190.12" y="512" font-size="8.2" text-anchor="middle" font-weight="normal" fill="#222" textLength="21" lengthAdjust="spacingAndGlyphs">NoAb</text>
<line x1="220.38" y1="500.2" x2="220.38" y2="503.5" stroke="#000" stroke-width="1.1"/>
<text x="220.38" y="512" font-size="8.2" text-anchor="middle" font-weight="normal" fill="#222" textLength="27.6" lengthAdjust="spacingAndGlyphs">CD19/3</text>
<line x1="250.62" y1="500.2" x2="250.62" y2="503.5" stroke="#000" stroke-width="1.1"/>
<text x="250.62" y="512" font-size="8.2" text-anchor="middle" font-weight="normal" fill="#222" textLength="21" lengthAdjust="spacingAndGlyphs">NoAb</text>
<line x1="280.88" y1="500.2" x2="280.88" y2="503.5" stroke="#000" stroke-width="1.1"/>
<text x="280.88" y="512" font-size="8.2" text-anchor="middle" font-weight="normal" fill="#222" textLength="27.6" lengthAdjust="spacingAndGlyphs">CD19/3</text>
<line x1="311.12" y1="500.2" x2="311.12" y2="503.5" stroke="#000" stroke-width="1.1"/>
<text x="311.12" y="512" font-size="8.2" text-anchor="middle" font-weight="normal" fill="#222" textLength="21" lengthAdjust="spacingAndGlyphs">NoAb</text>
<line x1="341.38" y1="500.2" x2="341.38" y2="503.5" stroke="#000" stroke-width="1.1"/>
<text x="341.38" y="512" font-size="8.2" text-anchor="middle" font-weight="normal" fill="#222" textLength="27.6" lengthAdjust="spacingAndGlyphs">CD19/3</text>
<line x1="180.4" y1="388.2" x2="229.4" y2="388.2" stroke="#000" stroke-width="1.4"/>
<text x="197.3" y="384.3" font-size="9.8" text-anchor="start" font-weight="normal" fill="#111" textLength="13.8" lengthAdjust="spacingAndGlyphs">BN</text>
<line x1="238.5" y1="388.2" x2="287.7" y2="388.2" stroke="#000" stroke-width="1.4"/>
<text x="255" y="384.3" font-size="9.8" text-anchor="start" font-weight="normal" fill="#111" textLength="16.2" lengthAdjust="spacingAndGlyphs">Aca</text>
<line x1="301.7" y1="388.2" x2="350.8" y2="388.2" stroke="#000" stroke-width="1.4"/>
<text x="319" y="384.3" font-size="9.8" text-anchor="start" font-weight="normal" fill="#111" textLength="13.2" lengthAdjust="spacingAndGlyphs">Ibr</text>
<text x="118" y="383.3" font-size="10.8" text-anchor="start" font-weight="bold" fill="#000" textLength="8.9" lengthAdjust="spacingAndGlyphs">D</text>
<path d="M152.6 397.3 H132.4 V454.5 H154.8" fill="none" stroke="#000" stroke-width="1.1" stroke-dasharray="2.4 1.5"/>
<path d="M154.2 457.3 H132.6 V495.3 H156.0" fill="none" stroke="#000" stroke-width="1.1" stroke-dasharray="2.4 1.5"/>
<text x="113.4" y="434.9" font-size="9.6" text-anchor="start" font-weight="normal" fill="#111">Th1</text>
<text x="113.4" y="484.7" font-size="9.6" text-anchor="start" font-weight="normal" fill="#111">Th2</text>
<defs><linearGradient id="cb" x1="0" y1="1" x2="0" y2="0"><stop offset="0" stop-color="#fffbff"/><stop offset="0.16" stop-color="#f9bcf9"/><stop offset="0.33" stop-color="#f284f2"/><stop offset="0.66" stop-color="#e82ce9"/><stop offset="1" stop-color="#d400bc"/></linearGradient></defs>
<rect x="369" y="392.8" width="13" height="106.6" fill="url(#cb)" stroke="#000" stroke-width="1.6"/>
<text x="384.8" y="396" font-size="8" text-anchor="start" font-weight="normal" fill="#222" textLength="18.2" lengthAdjust="spacingAndGlyphs">6000</text>
<line x1="369" y1="428.8" x2="371.5" y2="428.8" stroke="#000" stroke-width="1.1"/>
<line x1="379.5" y1="428.8" x2="382" y2="428.8" stroke="#000" stroke-width="1.1"/>
<text x="384.8" y="431.2" font-size="8" text-anchor="start" font-weight="normal" fill="#222" textLength="18.2" lengthAdjust="spacingAndGlyphs">4000</text>
<line x1="369" y1="465" x2="371.5" y2="465" stroke="#000" stroke-width="1.1"/>
<line x1="379.5" y1="465" x2="382" y2="465" stroke="#000" stroke-width="1.1"/>
<text x="384.8" y="467.4" font-size="8" text-anchor="start" font-weight="normal" fill="#222" textLength="18.2" lengthAdjust="spacingAndGlyphs">2000</text>
<text x="365.8" y="381.4" font-size="9.1" text-anchor="start" font-weight="normal" fill="#111" textLength="27.4" lengthAdjust="spacingAndGlyphs">pg/mL</text>
<rect x="0" y="0" width="520" height="1.4" fill="#000"/>
<rect x="0" y="0" width="1.4" height="519" fill="#000"/>
<rect x="518.7" y="0" width="1.3" height="519" fill="#000"/>
<rect x="0" y="517.6" width="520" height="1.4" fill="#000"/>
</svg>
</body></html>
